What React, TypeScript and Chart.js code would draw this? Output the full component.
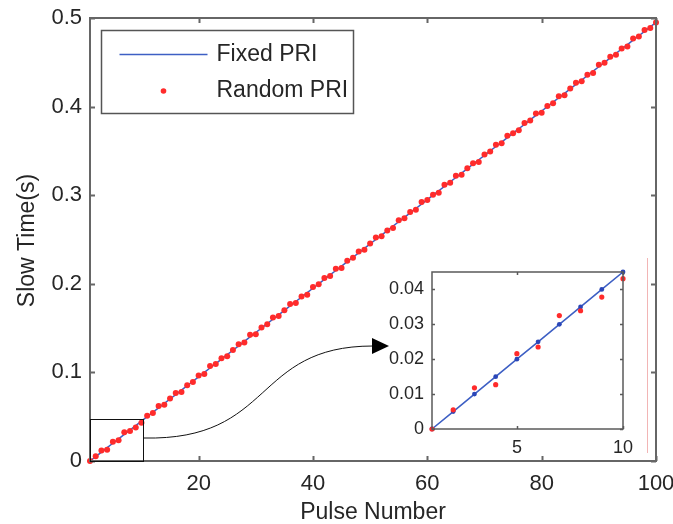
import React, { useEffect, useRef } from 'react';
import { Chart, registerables } from 'chart.js';

Chart.register(...registerables);

const PULSE_NUMBER = [
  1, 2, 3, 4, 5, 6, 7, 8, 9, 10, 11, 12, 13, 14, 15, 16, 17, 18, 19, 20,
  21, 22, 23, 24, 25, 26, 27, 28, 29, 30, 31, 32, 33, 34, 35, 36, 37, 38, 39, 40,
  41, 42, 43, 44, 45, 46, 47, 48, 49, 50, 51, 52, 53, 54, 55, 56, 57, 58, 59, 60,
  61, 62, 63, 64, 65, 66, 67, 68, 69, 70, 71, 72, 73, 74, 75, 76, 77, 78, 79, 80,
  81, 82, 83, 84, 85, 86, 87, 88, 89, 90, 91, 92, 93, 94, 95, 96, 97, 98, 99, 100,
];

const FIXED_PRI = [
  0, 0.005, 0.01, 0.015, 0.02, 0.025, 0.03, 0.035, 0.04, 0.045,
  0.05, 0.055, 0.06, 0.065, 0.07, 0.075, 0.08, 0.085, 0.09, 0.095,
  0.1, 0.105, 0.11, 0.115, 0.12, 0.125, 0.13, 0.135, 0.14, 0.145,
  0.15, 0.155, 0.16, 0.165, 0.17, 0.175, 0.18, 0.185, 0.19, 0.195,
  0.2, 0.205, 0.21, 0.215, 0.22, 0.225, 0.23, 0.235, 0.24, 0.245,
  0.25, 0.255, 0.26, 0.265, 0.27, 0.275, 0.28, 0.285, 0.29, 0.295,
  0.3, 0.305, 0.31, 0.315, 0.32, 0.325, 0.33, 0.335, 0.34, 0.345,
  0.35, 0.355, 0.36, 0.365, 0.37, 0.375, 0.38, 0.385, 0.39, 0.395,
  0.4, 0.405, 0.41, 0.415, 0.42, 0.425, 0.43, 0.435, 0.44, 0.445,
  0.45, 0.455, 0.46, 0.465, 0.47, 0.475, 0.48, 0.485, 0.49, 0.495,
];

const RANDOM_PRI = [
  0, 0.0055, 0.0118, 0.0127, 0.0216, 0.0235, 0.0325, 0.0339, 0.0378, 0.0431,
  0.0512, 0.0542, 0.062, 0.0635, 0.0706, 0.0768, 0.0779, 0.0854, 0.0891, 0.0965,
  0.0983, 0.1072, 0.1095, 0.116, 0.1181, 0.1253, 0.1317, 0.1338, 0.1424, 0.143,
  0.1508, 0.1544, 0.1619, 0.1636, 0.1702, 0.1771, 0.1782, 0.1857, 0.1877, 0.1963,
  0.1996, 0.2066, 0.2089, 0.217, 0.2178, 0.2259, 0.2293, 0.2364, 0.2384, 0.2455,
  0.2523, 0.2537, 0.2601, 0.263, 0.2718, 0.2741, 0.2811, 0.2835, 0.2922, 0.2947,
  0.3006, 0.3029, 0.3117, 0.314, 0.322, 0.3232, 0.3304, 0.3362, 0.3376, 0.3458,
  0.3494, 0.3569, 0.3587, 0.3671, 0.3698, 0.3733, 0.3815, 0.3842, 0.3923, 0.3931,
  0.4007, 0.4039, 0.4116, 0.4128, 0.4203, 0.4269, 0.4286, 0.436, 0.438, 0.4472,
  0.4495, 0.4563, 0.4584, 0.4656, 0.4679, 0.4768, 0.4791, 0.4864, 0.4888, 0.495,
];

const SERIES_NAMES = ['Fixed PRI', 'Random PRI'];
const X_TITLE = 'Pulse Number';
const Y_TITLE = 'Slow Time(s)';
const X_RANGE = [1, 100];
const Y_RANGE = [0, 0.5];
const X_TICKS = [20, 40, 60, 80, 100];
const Y_TICKS = [0, 0.1, 0.2, 0.3, 0.4, 0.5];

const INSET_COUNT = 10;
const INSET_X_RANGE = [1, 10];
const INSET_Y_RANGE = [0, 0.045];
const INSET_X_TICKS = [5, 10];
const INSET_Y_TICKS = [0, 0.01, 0.02, 0.03, 0.04];
const ZOOM_BOX_X = [1, 10.2];
const ZOOM_BOX_Y = [0, 0.047];

const FONT = "'Liberation Sans', Arial, sans-serif";
const TEXT = '#262626';
const BLUE = '#3d5fc4';
const RED = '#ff2b2b';
const FRAME = '#666666';

const fmt = (v: number) => String(Number(v.toFixed(3)));

const toPoints = (ys: number[], n?: number) =>
  ys.slice(0, n ?? ys.length).map((y, i) => ({ x: PULSE_NUMBER[i], y }));

const noPad = (s: any) => {
  s.paddingLeft = 0;
  s.paddingRight = 0;
  s.paddingTop = 0;
  s.paddingBottom = 0;
};

const framePlugin = {
  id: 'frame',
  afterDatasetsDraw(chart: any, _args: any, opts: any) {
    const { ctx, chartArea: a, scales } = chart;
    const L = opts.tickLen;
    ctx.save();
    ctx.strokeStyle = opts.color;
    ctx.lineWidth = opts.width;
    ctx.beginPath();
    scales.x.ticks.forEach((t: any) => {
      const px = Math.round(scales.x.getPixelForValue(t.value)) + 0.5;
      ctx.moveTo(px, a.bottom);
      ctx.lineTo(px, a.bottom - L);
      ctx.moveTo(px, a.top);
      ctx.lineTo(px, a.top + L);
    });
    scales.y.ticks.forEach((t: any) => {
      const py = Math.round(scales.y.getPixelForValue(t.value)) + 0.5;
      ctx.moveTo(a.left, py);
      ctx.lineTo(a.left + L, py);
      ctx.moveTo(a.right, py);
      ctx.lineTo(a.right - L, py);
    });
    ctx.stroke();
    ctx.strokeRect(a.left, a.top, a.right - a.left, a.bottom - a.top);
    ctx.restore();
  },
};

const decorPlugin = {
  id: 'decor',
  afterDraw(chart: any) {
    const { ctx, chartArea: a, scales } = chart;
    const xs = scales.x;
    const ys = scales.y;
    ctx.save();

    // axis titles
    ctx.fillStyle = TEXT;
    ctx.font = `23px ${FONT}`;
    ctx.textAlign = 'center';
    ctx.textBaseline = 'middle';
    ctx.fillText(X_TITLE, (a.left + a.right) / 2, 513);
    ctx.save();
    ctx.translate(28, (a.top + a.bottom) / 2 + 1);
    ctx.rotate(-Math.PI / 2);
    ctx.fillText(Y_TITLE, 0, 0);
    ctx.restore();

    // legend
    const lx = a.left + 11.5;
    const ly = a.top + 12.5;
    ctx.fillStyle = '#ffffff';
    ctx.fillRect(lx, ly, 252, 83);
    ctx.strokeStyle = '#555555';
    ctx.lineWidth = 1.5;
    ctx.strokeRect(lx, ly, 252, 83);
    ctx.strokeStyle = BLUE;
    ctx.lineWidth = 1.5;
    ctx.beginPath();
    ctx.moveTo(lx + 18, ly + 24);
    ctx.lineTo(lx + 106, ly + 24);
    ctx.stroke();
    ctx.fillStyle = RED;
    ctx.beginPath();
    ctx.arc(lx + 62, ly + 60.5, 2.8, 0, Math.PI * 2);
    ctx.fill();
    ctx.fillStyle = TEXT;
    ctx.font = `23px ${FONT}`;
    ctx.textAlign = 'left';
    ctx.textBaseline = 'middle';
    ctx.fillText(SERIES_NAMES[0], lx + 115, ly + 24);
    ctx.fillText(SERIES_NAMES[1], lx + 115, ly + 60.5);

    // zoom box
    const bx0 = xs.getPixelForValue(ZOOM_BOX_X[0]);
    const bx1 = xs.getPixelForValue(ZOOM_BOX_X[1]);
    const by0 = ys.getPixelForValue(ZOOM_BOX_Y[0]);
    const by1 = ys.getPixelForValue(ZOOM_BOX_Y[1]);
    ctx.strokeStyle = '#111111';
    ctx.lineWidth = 1;
    ctx.strokeRect(Math.round(bx0) + 0.5, Math.round(by1) + 0.5, Math.round(bx1 - bx0), Math.round(by0 - by1));

    // arrow
    const sx = Math.round(bx1) + 0.5;
    const sy = 438;
    const ex = 373;
    const ey = 346;
    ctx.beginPath();
    ctx.moveTo(sx, sy);
    ctx.bezierCurveTo(275, 441, 252, ey, ex, ey);
    ctx.stroke();
    ctx.fillStyle = '#000000';
    ctx.beginPath();
    ctx.moveTo(ex - 1, ey - 8);
    ctx.lineTo(ex + 16, ey);
    ctx.lineTo(ex - 1, ey + 8);
    ctx.closePath();
    ctx.fill();

    // faint vertical line near right
    ctx.strokeStyle = '#f2b5b5';
    ctx.lineWidth = 1;
    ctx.beginPath();
    ctx.moveTo(647.5, 258);
    ctx.lineTo(647.5, 453);
    ctx.stroke();

    ctx.restore();
  },
};

function MainChart() {
  const ref = useRef<HTMLCanvasElement>(null);
  useEffect(() => {
    if (!ref.current) return;
    const chart = new Chart(ref.current, {
      type: 'scatter',
      data: {
        datasets: [
          {
            label: SERIES_NAMES[1],
            data: toPoints(RANDOM_PRI),
            showLine: false,
            pointRadius: 3,
            pointBackgroundColor: RED,
            pointBorderWidth: 0,
            clip: false,
          } as any,
          {
            label: SERIES_NAMES[0],
            data: toPoints(FIXED_PRI),
            showLine: true,
            borderColor: BLUE,
            borderWidth: 1.5,
            pointRadius: 0,
            clip: false,
          } as any,
        ],
      },
      options: {
        animation: false,
        responsive: false,
        events: [],
        layout: { padding: { top: 18, right: 17, left: 0, bottom: 0 } },
        plugins: {
          legend: { display: false },
          tooltip: { enabled: false },
          frame: { color: FRAME, width: 2, tickLen: 5 },
        } as any,
        scales: {
          x: {
            type: 'linear',
            min: X_RANGE[0],
            max: X_RANGE[1],
            afterBuildTicks: (s: any) => {
              s.ticks = X_TICKS.map((v) => ({ value: v }));
            },
            afterFit: (s: any) => {
              s.height = 63;
              noPad(s);
            },
            grid: { display: false, drawTicks: false },
            border: { display: false },
            ticks: {
              callback: (v: any) => fmt(Number(v)),
              font: { family: FONT, size: 22 },
              color: TEXT,
              padding: 10,
              maxRotation: 0,
              autoSkip: false,
            },
          },
          y: {
            type: 'linear',
            min: Y_RANGE[0],
            max: Y_RANGE[1],
            afterBuildTicks: (s: any) => {
              s.ticks = Y_TICKS.map((v) => ({ value: v }));
            },
            afterFit: (s: any) => {
              s.width = 90;
              noPad(s);
            },
            grid: { display: false, drawTicks: false },
            border: { display: false },
            ticks: {
              callback: (v: any) => fmt(Number(v)),
              font: { family: FONT, size: 22 },
              color: TEXT,
              padding: 8,
              autoSkip: false,
            },
          },
        },
      },
      plugins: [framePlugin, decorPlugin],
    });
    return () => chart.destroy();
  }, []);
  return <canvas ref={ref} width={673} height={524} style={{ position: 'absolute', left: 0, top: 0 }} />;
}

function InsetChart() {
  const ref = useRef<HTMLCanvasElement>(null);
  useEffect(() => {
    if (!ref.current) return;
    const chart = new Chart(ref.current, {
      type: 'scatter',
      data: {
        datasets: [
          {
            label: SERIES_NAMES[1],
            data: toPoints(RANDOM_PRI, INSET_COUNT),
            showLine: false,
            pointRadius: 2.6,
            pointBackgroundColor: RED,
            pointBorderWidth: 0,
            clip: false,
          } as any,
          {
            label: SERIES_NAMES[0],
            data: toPoints(FIXED_PRI, INSET_COUNT),
            showLine: true,
            borderColor: BLUE,
            borderWidth: 1.6,
            pointRadius: 2.4,
            pointBackgroundColor: '#2a46b8',
            pointBorderWidth: 0,
            clip: false,
          } as any,
        ],
      },
      options: {
        animation: false,
        responsive: false,
        events: [],
        layout: { padding: { top: 17, right: 17, left: 0, bottom: 0 } },
        plugins: {
          legend: { display: false },
          tooltip: { enabled: false },
          frame: { color: '#5a5a5a', width: 1.5, tickLen: 3 },
        } as any,
        scales: {
          x: {
            type: 'linear',
            min: INSET_X_RANGE[0],
            max: INSET_X_RANGE[1],
            afterBuildTicks: (s: any) => {
              s.ticks = INSET_X_TICKS.map((v) => ({ value: v }));
            },
            afterFit: (s: any) => {
              s.height = 26;
              noPad(s);
            },
            grid: { display: false, drawTicks: false },
            border: { display: false },
            ticks: {
              callback: (v: any) => fmt(Number(v)),
              font: { family: FONT, size: 18 },
              color: TEXT,
              padding: 8,
              maxRotation: 0,
              autoSkip: false,
            },
          },
          y: {
            type: 'linear',
            min: INSET_Y_RANGE[0],
            max: INSET_Y_RANGE[1],
            afterBuildTicks: (s: any) => {
              s.ticks = INSET_Y_TICKS.map((v) => ({ value: v }));
            },
            afterFit: (s: any) => {
              s.width = 52;
              noPad(s);
            },
            grid: { display: false, drawTicks: false },
            border: { display: false },
            ticks: {
              callback: (v: any) => fmt(Number(v)),
              font: { family: FONT, size: 18 },
              color: TEXT,
              padding: 8,
              autoSkip: false,
            },
          },
        },
      },
      plugins: [framePlugin],
    });
    return () => chart.destroy();
  }, []);
  return <canvas ref={ref} width={260} height={200} style={{ position: 'absolute', left: 380, top: 255 }} />;
}

export default function App() {
  return (
    <div style={{ position: 'fixed', left: 0, top: 0, width: 673, height: 524, background: '#ffffff' }}>
      <MainChart />
      <InsetChart />
    </div>
  );
}
